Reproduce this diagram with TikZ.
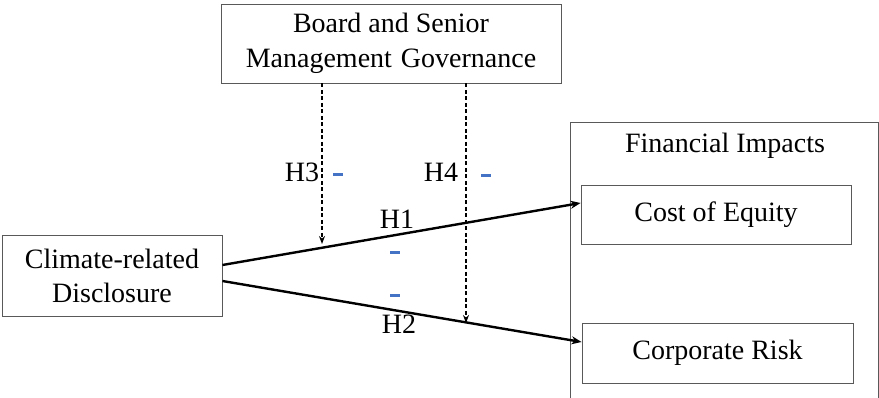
\documentclass[tikz,border=0pt]{standalone}
\usepackage{fontspec}
\setmainfont{Liberation Serif}
\usetikzlibrary{arrows.meta}
\definecolor{minusblue}{RGB}{68,114,196}
\begin{document}
\begin{tikzpicture}[x=1pt,y=-1pt,
  box/.style={draw=black!65,line width=0.9pt,rectangle,inner sep=0pt,align=center,font=\fontsize{28}{34}\selectfont},
  lbl/.style={inner sep=0pt,font=\fontsize{28}{34}\selectfont},
  mainarrow/.style={line width=2.4pt,-{Stealth[length=10pt,width=8pt]}},
  dasharrow/.style={line width=1.3pt,dashed,dash pattern=on 4pt off 2.5pt,-{Stealth[length=8pt,width=6pt]}},
  minusmark/.style={fill=minusblue,draw=none,minimum width=10pt,minimum height=3pt,inner sep=0pt,rectangle}]
\useasboundingbox (0,0) rectangle (879,398);
\node[box,minimum width=340pt,minimum height=79pt] (board) at (391,43.5) {Board and Senior\\[1pt]Management\hspace{9pt}Governance};
\node[box,minimum width=220pt,minimum height=81pt] (climate) at (112,275.5) {Climate-related\\Disclosure};
\draw[draw=black!65,line width=0.9pt] (570,400) -- (570,122) -- (878,122) -- (878,400);
\node[lbl] (fin) at (725,146) {Financial Impacts};
\node[box,minimum width=270pt,minimum height=59pt] (coe) at (716,214.5) {Cost of Equity};
\node[box,minimum width=271pt,minimum height=60pt] (risk) at (717.5,353) {Corporate Risk};
\draw[mainarrow] ([yshift=10.5pt]climate.east) -- ([yshift=11.5pt]coe.west);
\draw[mainarrow] ([yshift=-5.5pt]climate.east) -- ([yshift=11pt]risk.west);
\coordinate (h3end) at (322,244);
\coordinate (h4end) at (466,323);
\draw[dasharrow] ([xshift=-69pt]board.south) -- (h3end);
\draw[dasharrow] ([xshift=75pt]board.south) -- (h4end);
\node[lbl] (h3) at (302,172) {H3};
\node[lbl] (h4) at (441,172) {H4};
\node[lbl] (h1) at (397,219) {H1};
\node[lbl] (h2) at (399,324) {H2};
\node[minusmark] (m3) at (338,175) {};
\node[minusmark] (m4) at (486,176) {};
\node[minusmark] (m1) at (395,253) {};
\node[minusmark] (m2) at (395,296) {};
\end{tikzpicture}
\end{document}
